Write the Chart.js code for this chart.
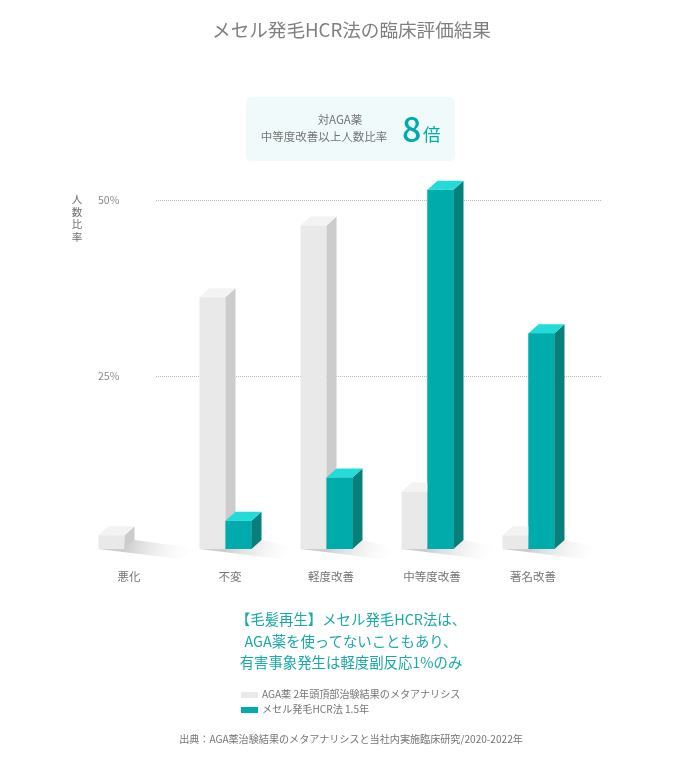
<!DOCTYPE html>
<html lang="ja">
<head>
<meta charset="utf-8">
<script src="https://cdn.jsdelivr.net/npm/chart.js@4"></script>
<style>
html,body{margin:0;padding:0;background:#fff;}
body{width:694px;height:763px;position:relative;overflow:hidden;font-family:"Noto Sans CJK JP","Noto Sans",sans-serif;}
#c{position:absolute;left:0;top:0;}
.t{position:absolute;white-space:nowrap;}
#title{left:0;width:703px;top:15px;text-align:center;font-size:18.6px;line-height:27px;color:#7f7f7f;}
#box{position:absolute;left:246px;top:97px;width:209px;height:64px;background:#f0fafb;border-radius:5px;}
#boxText{left:246px;width:156px;top:111px;text-align:center;font-size:11.5px;line-height:17px;color:#757575;}
#boxText span{position:relative;left:16px;}
#eight{left:402px;top:105px;font-size:34px;line-height:46px;color:#00abab;font-weight:500;}
#bai{left:423px;top:121px;font-size:17.5px;line-height:26px;color:#00abab;}
#ylab{left:71px;top:193px;width:12px;text-align:center;font-size:10.5px;line-height:12.7px;color:#6f6f6f;white-space:normal;}
#msg{left:0;width:702px;top:608px;text-align:center;font-size:14.4px;line-height:21.5px;color:#19a9a8;}
.sw{position:absolute;left:241px;width:17px;height:6px;}
.lg{left:262px;font-size:10.1px;line-height:14px;color:#757575;}
#src{left:0;width:702px;top:732px;text-align:center;font-size:10.1px;line-height:14px;color:#757575;}
</style>
</head>
<body>
<canvas id="c" width="694" height="763"></canvas>
<div class="t" id="title">メセル発毛HCR法の臨床評価結果</div>
<div id="box"></div>
<div class="t" id="boxText"><span>対AGA薬</span><br>中等度改善以上人数比率</div>
<div class="t" id="eight">8</div>
<div class="t" id="bai">倍</div>
<div class="t" id="ylab">人<br>数<br>比<br>率</div>
<div class="t" id="msg">【毛髪再生】メセル発毛HCR法は、<br>AGA薬を使ってないこともあり、<br>有害事象発生は軽度副反応1%のみ</div>
<div class="sw" style="top:692px;background:#e9e9e9"></div>
<div class="t lg" id="lg0" style="top:687px"></div>
<div class="sw" style="top:707px;background:#00abab"></div>
<div class="t lg" id="lg1" style="top:702px"></div>
<div class="t" id="src">出典：AGA薬治験結果のメタアナリシスと当社内実施臨床研究/2020-2022年</div>
<script>
const categories = ["悪化", "不変", "軽度改善", "中等度改善", "著名改善"];
const agaLabel = "AGA薬 2年頭頂部治験結果のメタアナリシス";
const hcrLabel = "メセル発毛HCR法 1.5年";
const agaValues = [2.4, 36.2, 46.4, 8.6, 2.4];
const hcrValues = [null, 4.45, 10.6, 51.5, 31.1];
const yTickValues = [25, 50];

document.getElementById('lg0').textContent = agaLabel;
document.getElementById('lg1').textContent = hcrLabel;

const FONT = '"Noto Sans CJK JP","Noto Sans",sans-serif';
const faces = [
  {top:'#f3f3f3', side:'#cccccc'},
  {top:'#23dbd8', side:'#07807c'}
];
const DX = 10, DY = 9;

function poly(ctx, pts, fill){
  ctx.beginPath();
  pts.forEach((p,i)=> i ? ctx.lineTo(p[0],p[1]) : ctx.moveTo(p[0],p[1]));
  ctx.closePath();
  ctx.fillStyle = fill;
  ctx.fill();
}

function drawFaces(chart, idx){
  const ctx = chart.ctx, f = faces[idx];
  const values = chart.data.datasets[idx].data;
  const b = chart.chartArea.bottom;
  chart.getDatasetMeta(idx).data.forEach((el,i)=>{
    if (values[i] == null) return;
    const l = el.x - el.width/2, r = el.x + el.width/2, top = el.y;
    poly(ctx, [[r,top],[r+DX,top-DY],[r+DX,b-DY],[r,b]], f.side);
    poly(ctx, [[l,top],[r,top],[r+DX,top-DY],[l+DX,top-DY]], f.top);
  });
}

const bar3d = {
  id:'bar3d',
  beforeDatasetsDraw(chart){
    const ctx = chart.ctx, y = chart.scales.y, a = chart.chartArea;
    ctx.save();
    ctx.strokeStyle = '#bdbdbd';
    ctx.lineWidth = 1;
    ctx.setLineDash([1,1]);
    yTickValues.forEach(v=>{
      const py = Math.round(y.getPixelForValue(v)) + 0.5;
      ctx.beginPath();
      ctx.moveTo(a.left + 82, py);
      ctx.lineTo(a.right + 23, py);
      ctx.stroke();
    });
    ctx.setLineDash([]);
    const m0 = chart.getDatasetMeta(0).data, m1 = chart.getDatasetMeta(1).data;
    const base = a.bottom;
    m0.forEach((g,i)=>{
      const last = hcrValues[i] != null ? m1[i] : g;
      const left = g.x - g.width/2;
      const backX = last.x + last.width/2 + DX;
      const grad = ctx.createLinearGradient(left + 30, base - 12, left + 98, base + 9);
      grad.addColorStop(0, '#cdcdcd');
      grad.addColorStop(1, 'rgba(255,255,255,0)');
      poly(ctx, [[left,base],[backX,base-DY],[left+101,base],[left+81,base+10]], grad);
    });
    ctx.restore();
  },
  afterDatasetsDraw(chart){
    const ctx = chart.ctx, a = chart.chartArea;
    ctx.save();
    // gray sides and tops go behind the teal bars, so the teal fronts are painted again on top
    drawFaces(chart, 0);
    ctx.save();
    ctx.beginPath();
    ctx.rect(a.left, a.top, a.right - a.left, a.bottom - a.top);
    ctx.clip();
    chart.getDatasetMeta(1).data.forEach((el,i)=>{ if (hcrValues[i] != null) el.draw(ctx); });
    ctx.restore();
    drawFaces(chart, 1);
    ctx.restore();
  }
};

new Chart(document.getElementById('c'), {
  type:'bar',
  data:{
    labels:categories,
    datasets:[
      {label:agaLabel, data:agaValues, backgroundColor:'#e9e9e9'},
      {label:hcrLabel, data:hcrValues, backgroundColor:'#00abab'}
    ]
  },
  plugins:[bar3d],
  options:{
    responsive:false,
    animation:false,
    devicePixelRatio:1,
    layout:{padding:{left:74,right:115,top:165,bottom:174}},
    datasets:{bar:{categoryPercentage:0.515,barPercentage:1,borderWidth:0}},
    plugins:{legend:{display:false},tooltip:{enabled:false},title:{display:false}},
    scales:{
      x:{
        grid:{display:false,drawTicks:false},
        border:{display:false},
        afterFit(s){s.height=40;},
        ticks:{padding:21,labelOffset:4.5,maxRotation:0,autoSkip:false,color:'#757575',font:{family:FONT,size:11.5}}
      },
      y:{
        min:0.43,max:55,
        grid:{display:false,drawTicks:false},
        border:{display:false},
        afterFit(s){s.width=0;},
        afterBuildTicks(s){s.ticks=yTickValues.map(v=>({value:v}));},
        ticks:{mirror:true,padding:24,color:'#8a8a8a',font:{family:FONT,size:10.5},callback:v=>v+'%'}
      }
    }
  }
});
</script>
</body>
</html>
